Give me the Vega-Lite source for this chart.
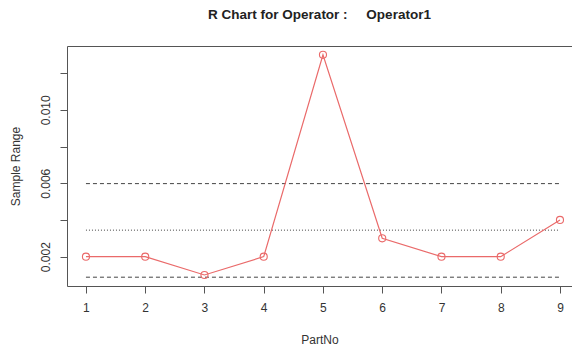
{
  "$schema": "https://vega.github.io/schema/vega-lite/v6.json",
  "width": 505,
  "height": 240,
  "autosize": {"type": "none"},
  "padding": {"left": 67, "top": 46, "right": 0, "bottom": 61},
  "background": "white",
  "title": {
    "text": "R Chart for Operator :\u00a0\u00a0\u00a0\u00a0 Operator1",
    "font": "Liberation Sans",
    "fontSize": 13.5,
    "fontWeight": "bold",
    "color": "#222",
    "anchor": "middle",
    "baseline": "middle",
    "offset": 18
  },
  "config": {
    "view": {"stroke": null},
    "axis": {
      "grid": false,
      "domainColor": "#555",
      "tickColor": "#555",
      "labelColor": "#333",
      "titleColor": "#333",
      "labelFont": "Liberation Sans",
      "titleFont": "Liberation Sans",
      "labelFontSize": 12,
      "titleFontSize": 12,
      "titleFontWeight": "normal",
      "tickSize": 7
    }
  },
  "datasets": {
    "ranges": [
      {"PartNo": 1, "Range": 0.002},
      {"PartNo": 2, "Range": 0.002},
      {"PartNo": 3, "Range": 0.001},
      {"PartNo": 4, "Range": 0.002},
      {"PartNo": 5, "Range": 0.013},
      {"PartNo": 6, "Range": 0.003},
      {"PartNo": 7, "Range": 0.002},
      {"PartNo": 8, "Range": 0.002},
      {"PartNo": 9, "Range": 0.004}
    ],
    "limits": [
      {"limit": "UCL", "style": "dashed", "value": 0.00598},
      {"limit": "CL", "style": "dotted", "value": 0.003444},
      {"limit": "LCL", "style": "dashed", "value": 0.00088}
    ]
  },
  "resolve": {"axis": {"x": "independent"}},
  "layer": [
    {
      "data": {"name": "limits"},
      "mark": {"type": "rule", "color": "#444", "strokeWidth": 1},
      "encoding": {
        "x": {
          "datum": 1,
          "type": "quantitative",
          "scale": {"domain": [0.68, 9.203], "nice": false, "zero": false},
          "axis": {
            "orient": "bottom",
            "values": [1, 2, 3, 4, 5, 6, 7, 8, 9],
            "format": "d",
            "title": "PartNo",
            "labelPadding": 9,
            "titlePadding": 21
          }
        },
        "x2": {"datum": 9},
        "y": {
          "field": "value",
          "type": "quantitative",
          "scale": {"domain": [0.0004, 0.01348], "nice": false, "zero": false},
          "axis": {
            "title": "Sample Range",
            "values": [0.002, 0.004, 0.006, 0.008, 0.01, 0.012],
            "labelExpr": "(datum.value > 0.0019 && datum.value < 0.0021) || (datum.value > 0.0059 && datum.value < 0.0061) || (datum.value > 0.0099 && datum.value < 0.0101) ? format(datum.value, '.3f') : ''",
            "labelAngle": -90,
            "labelAlign": "center",
            "labelBaseline": "bottom",
            "labelPadding": 8,
            "titlePadding": 17
          }
        },
        "strokeDash": {
          "field": "style",
          "type": "nominal",
          "scale": {"domain": ["dashed", "dotted"], "range": [[4, 3], [1, 2]]},
          "legend": null
        }
      }
    },
    {
      "data": {"name": "ranges"},
      "mark": {"type": "line", "color": "#ea6a6a", "strokeWidth": 1.2},
      "encoding": {
        "x": {
          "field": "PartNo",
          "type": "quantitative",
          "axis": {
            "orient": "top",
            "labels": false,
            "ticks": false,
            "title": null,
            "domain": true
          }
        },
        "y": {"field": "Range", "type": "quantitative"}
      }
    },
    {
      "data": {"name": "ranges"},
      "mark": {"type": "point", "shape": "circle", "filled": false, "color": "#ea6a6a", "size": 50, "strokeWidth": 1.1, "opacity": 1},
      "encoding": {
        "x": {"field": "PartNo", "type": "quantitative", "axis": null},
        "y": {"field": "Range", "type": "quantitative"}
      }
    }
  ]
}
